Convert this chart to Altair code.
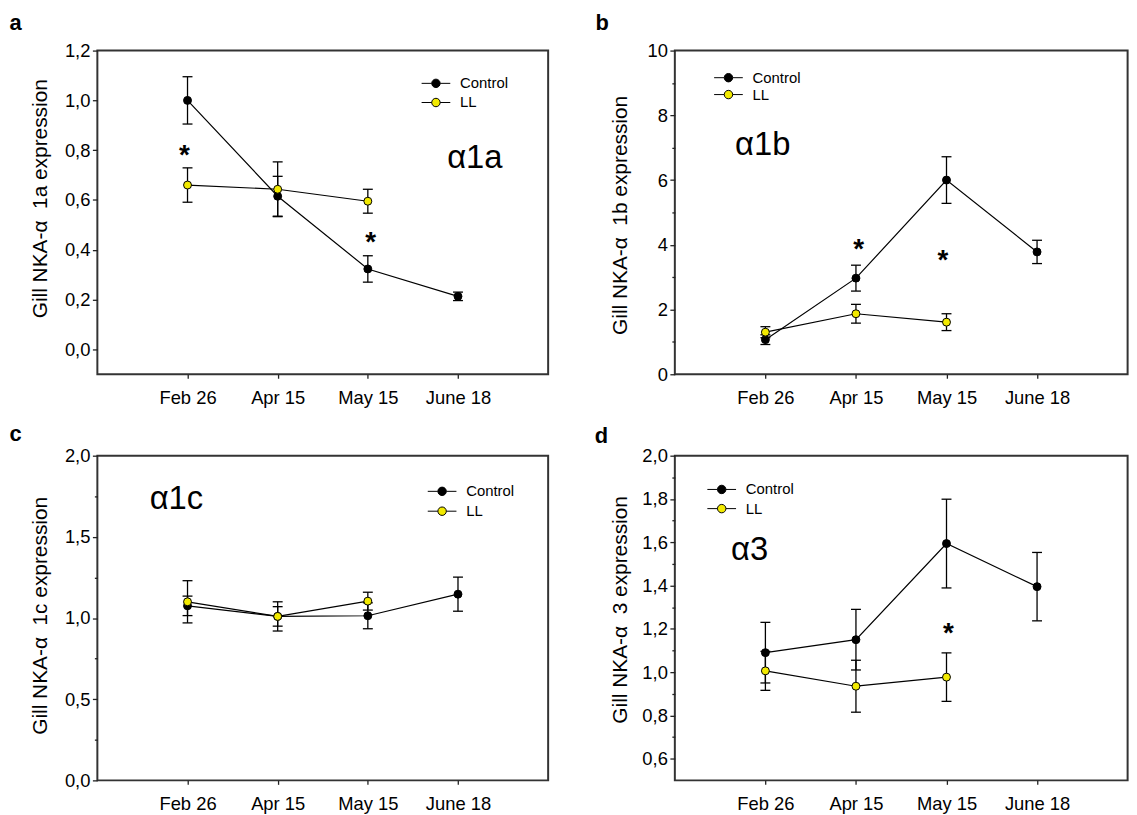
import altair as alt
import pandas as pd

FONT = "Liberation Sans"
DATES = ["Feb 26", "Apr 15", "May 15", "June 18"]
SERIES = ["Control", "LL"]
SERIES_COLORS = ["#000000", "#f2ea00"]

# ---- panel a : alpha1a ----
A_CTRL = [1.00, 0.615, 0.323, 0.213]
A_CTRL_SE = [0.095, 0.080, 0.053, 0.017]
A_LL = [0.660, 0.643, 0.595]
A_LL_SE = [0.069, 0.110, 0.048]
A_STAR_X = [0.965, 3.03]
A_STAR_Y = [0.808, 0.459]
A_YTICKS = [0.0, 0.2, 0.4, 0.6, 0.8, 1.0, 1.2]
A_MINOR = []

# ---- panel b : alpha1b ----
B_CTRL = [1.07, 2.97, 6.00, 3.78]
B_CTRL_SE = [0.15, 0.40, 0.72, 0.36]
B_LL = [1.30, 1.87, 1.61]
B_LL_SE = [0.17, 0.29, 0.26]
B_STAR_X = [2.03, 2.96]
B_STAR_Y = [4.09, 3.74]
B_YTICKS = [0, 2, 4, 6, 8, 10]
B_MINOR = [1, 3, 5, 7, 9]

# ---- panel c : alpha1c ----
C_CTRL = [1.075, 1.010, 1.014, 1.147]
C_CTRL_SE = [0.060, 0.090, 0.080, 0.105]
C_LL = [1.100, 1.010, 1.104]
C_LL_SE = [0.130, 0.060, 0.055]
C_STAR_X = []
C_STAR_Y = []
C_YTICKS = [0.0, 0.5, 1.0, 1.5, 2.0]
C_MINOR = [0.25, 0.75, 1.25, 1.75]

# ---- panel d : alpha3 ----
D_CTRL = [1.090, 1.150, 1.594, 1.395]
D_CTRL_SE = [0.140, 0.140, 0.205, 0.158]
D_LL = [1.006, 0.935, 0.977]
D_LL_SE = [0.090, 0.120, 0.112]
D_STAR_X = [3.02]
D_STAR_Y = [1.211]
D_YTICKS = [0.6, 0.8, 1.0, 1.2, 1.4, 1.6, 1.8, 2.0]
D_MINOR = [0.7, 0.9, 1.1, 1.3, 1.5, 1.7, 1.9]

LEGEND_SYMBOL = "M-3.4,0L-1,0M1,0L3.4,0M1,0A1,1,0,1,1,-1,0A1,1,0,1,1,1,0Z"
X_LABELS_JS = "['', " + ", ".join("'%s'" % d for d in DATES) + "][datum.value]"

PANELS = [
    dict(letter="a", ytitle="Gill NKA-\u03b1\u00a0\u00a01a expression",
         ctrl=A_CTRL, ctrl_se=A_CTRL_SE, ll=A_LL, ll_se=A_LL_SE,
         star_x=A_STAR_X, star_y=A_STAR_Y, gene="\u03b11a", gene_x=3.88, gene_y=0.727,
         ydom=[-0.1, 1.2], yticks=A_YTICKS, yminor=A_MINOR, yfmt=".1f",
         width=454, height=326, title_x=-51.7, title_y=148.7,
         leg_x=333.5, leg_y=25.5, leg_pad=3.3, letter_dx=-88.4, letter_off=-10.4),
    dict(letter="b", ytitle="Gill NKA-\u03b1\u00a0\u00a01b expression",
         ctrl=B_CTRL, ctrl_se=B_CTRL_SE, ll=B_LL, ll_se=B_LL_SE,
         star_x=B_STAR_X, star_y=B_STAR_Y, gene="\u03b11b", gene_x=0.665, gene_y=6.76,
         ydom=[0, 10], yticks=B_YTICKS, yminor=B_MINOR, yfmt="d",
         width=456, height=326, title_x=-48.3, title_y=165.5,
         leg_x=46.5, leg_y=19.8, leg_pad=1.0, letter_dx=-80, letter_off=-10.4),
    dict(letter="c", ytitle="Gill NKA-\u03b1\u00a0\u00a01c expression",
         ctrl=C_CTRL, ctrl_se=C_CTRL_SE, ll=C_LL, ll_se=C_LL_SE,
         star_x=C_STAR_X, star_y=C_STAR_Y, gene="\u03b11c", gene_x=0.58, gene_y=1.67,
         ydom=[0, 2], yticks=C_YTICKS, yminor=C_MINOR, yfmt=".1f",
         width=454, height=327, title_x=-51.7, title_y=160.8,
         leg_x=339.7, leg_y=28.4, leg_pad=4.0, letter_dx=-88.4, letter_off=-16),
    dict(letter="d", ytitle="Gill NKA-\u03b1\u00a0\u00a03 expression",
         ctrl=D_CTRL, ctrl_se=D_CTRL_SE, ll=D_LL, ll_se=D_LL_SE,
         star_x=D_STAR_X, star_y=D_STAR_Y, gene="\u03b13", gene_x=0.62, gene_y=1.518,
         ydom=[0.5, 2.0], yticks=D_YTICKS, yminor=D_MINOR, yfmt=".1f",
         width=456, height=327, title_x=-48.3, title_y=154.8,
         leg_x=39.7, leg_y=26.5, leg_pad=3.3, letter_dx=-80.7, letter_off=-18.3),
]


def make_panel(p):
    rows = []
    for s, means, ses in (("Control", p["ctrl"], p["ctrl_se"]), ("LL", p["ll"], p["ll_se"])):
        for i, (m, e) in enumerate(zip(means, ses)):
            rows.append(dict(series=s, pos=i + 1, date=DATES[i], mean=m, lo=m - e, hi=m + e))
    df = pd.DataFrame(rows)
    stars = pd.DataFrame({"x": p["star_x"], "y": p["star_y"], "t": ["*"] * len(p["star_x"])})
    gene = pd.DataFrame({"x": [p["gene_x"]], "y": [p["gene_y"]], "t": [p["gene"]]})

    xs = alt.Scale(domain=[0, 5], nice=False, zero=False)
    ys = alt.Scale(domain=p["ydom"], nice=False, zero=False)

    major_js = "[" + ",".join(repr(v) for v in p["yticks"]) + "]"
    test = "indexof(%s, datum.value) >= 0" % major_js
    label_expr = "%s ? replace(format(datum.value, '%s'), '.', ',') : ''" % (test, p["yfmt"])

    yaxis = alt.Axis(
        values=sorted(p["yticks"] + p["yminor"]), title=p["ytitle"], labelExpr=label_expr,
        tickSize={"condition": {"test": test, "value": 5}, "value": 3},
        labelOverlap=False, labelPadding=2.5, labelFlush=False,
        titleX=p["title_x"], titleY=p["title_y"], titleAngle=270,
        titleBaseline="alphabetic", titleAlign="center",
    )
    xaxis = alt.Axis(values=[1, 2, 3, 4], labelExpr=X_LABELS_JS, title=None,
                     tickSize=4, labelPadding=10, labelFlush=False, labelOverlap=False)

    def X(field):
        return alt.X(field, scale=xs, axis=xaxis)

    def Y(field):
        return alt.Y(field, scale=ys, axis=yaxis)

    base = alt.Chart(df)
    line = base.mark_line(color="black", strokeWidth=1.2).encode(
        x=X("pos:Q"), y=Y("mean:Q"), detail="series:N")
    rule = base.mark_rule(color="black", strokeWidth=1.3).encode(
        x=X("pos:Q"), y=Y("lo:Q"), y2="hi:Q")
    cap_lo = base.mark_tick(color="black", orient="horizontal", size=10, thickness=1.3, opacity=1).encode(
        x=X("pos:Q"), y=Y("lo:Q"))
    cap_hi = base.mark_tick(color="black", orient="horizontal", size=10, thickness=1.3, opacity=1).encode(
        x=X("pos:Q"), y=Y("hi:Q"))
    pts = base.mark_point(filled=True, size=64, stroke="black", strokeWidth=1, opacity=1).encode(
        x=X("pos:Q"), y=Y("mean:Q"),
        fill=alt.Fill("series:N", scale=alt.Scale(domain=SERIES, range=SERIES_COLORS),
                      legend=alt.Legend(orient="none", legendX=p["leg_x"], legendY=p["leg_y"],
                                        title=None, symbolType=LEGEND_SYMBOL, symbolSize=72.25,
                                        symbolStrokeColor="black", symbolStrokeWidth=1,
                                        labelFont=FONT, labelFontSize=15, labelColor="black",
                                        labelOffset=16.75, rowPadding=p["leg_pad"], padding=0,
                                        direction="vertical")))
    star = alt.Chart(stars).mark_text(font=FONT, fontSize=28, fontWeight="bold", color="black",
                                      baseline="alphabetic", align="center", dy=16).encode(
        x=X("x:Q"), y=Y("y:Q"), text="t:N")
    glabel = alt.Chart(gene).mark_text(font=FONT, fontSize=33, color="black",
                                       baseline="alphabetic", align="left").encode(
        x=X("x:Q"), y=Y("y:Q"), text="t:N")

    layers = [line, rule, cap_lo, cap_hi, pts, glabel]
    if len(stars):
        layers.append(star)
    return alt.layer(*layers).properties(
        width=p["width"], height=p["height"],
        title=alt.TitleParams(text=p["letter"], anchor="start", frame="group", dx=p["letter_dx"],
                              offset=p["letter_off"], fontSize=22, fontWeight="bold",
                              baseline="alphabetic", font=FONT, color="black"))


panels = [make_panel(p) for p in PANELS]
chart = alt.concat(*panels, columns=2, spacing={"row": 82, "column": 127.6},
                   bounds="flush").resolve_scale(fill="independent").properties(
    padding={"left": 0, "top": 0, "right": 0, "bottom": 0}
).configure_view(stroke="#333333", strokeWidth=2).configure_axis(
    labelFont=FONT, titleFont=FONT, labelFontSize=18.5, titleFontSize=21,
    labelColor="black", titleColor="black", tickColor="#222222", tickWidth=1.3,
    domain=False, grid=False, titleFontWeight="normal")

chart.save("out.html", embed_options={"renderer": "svg", "actions": False})
